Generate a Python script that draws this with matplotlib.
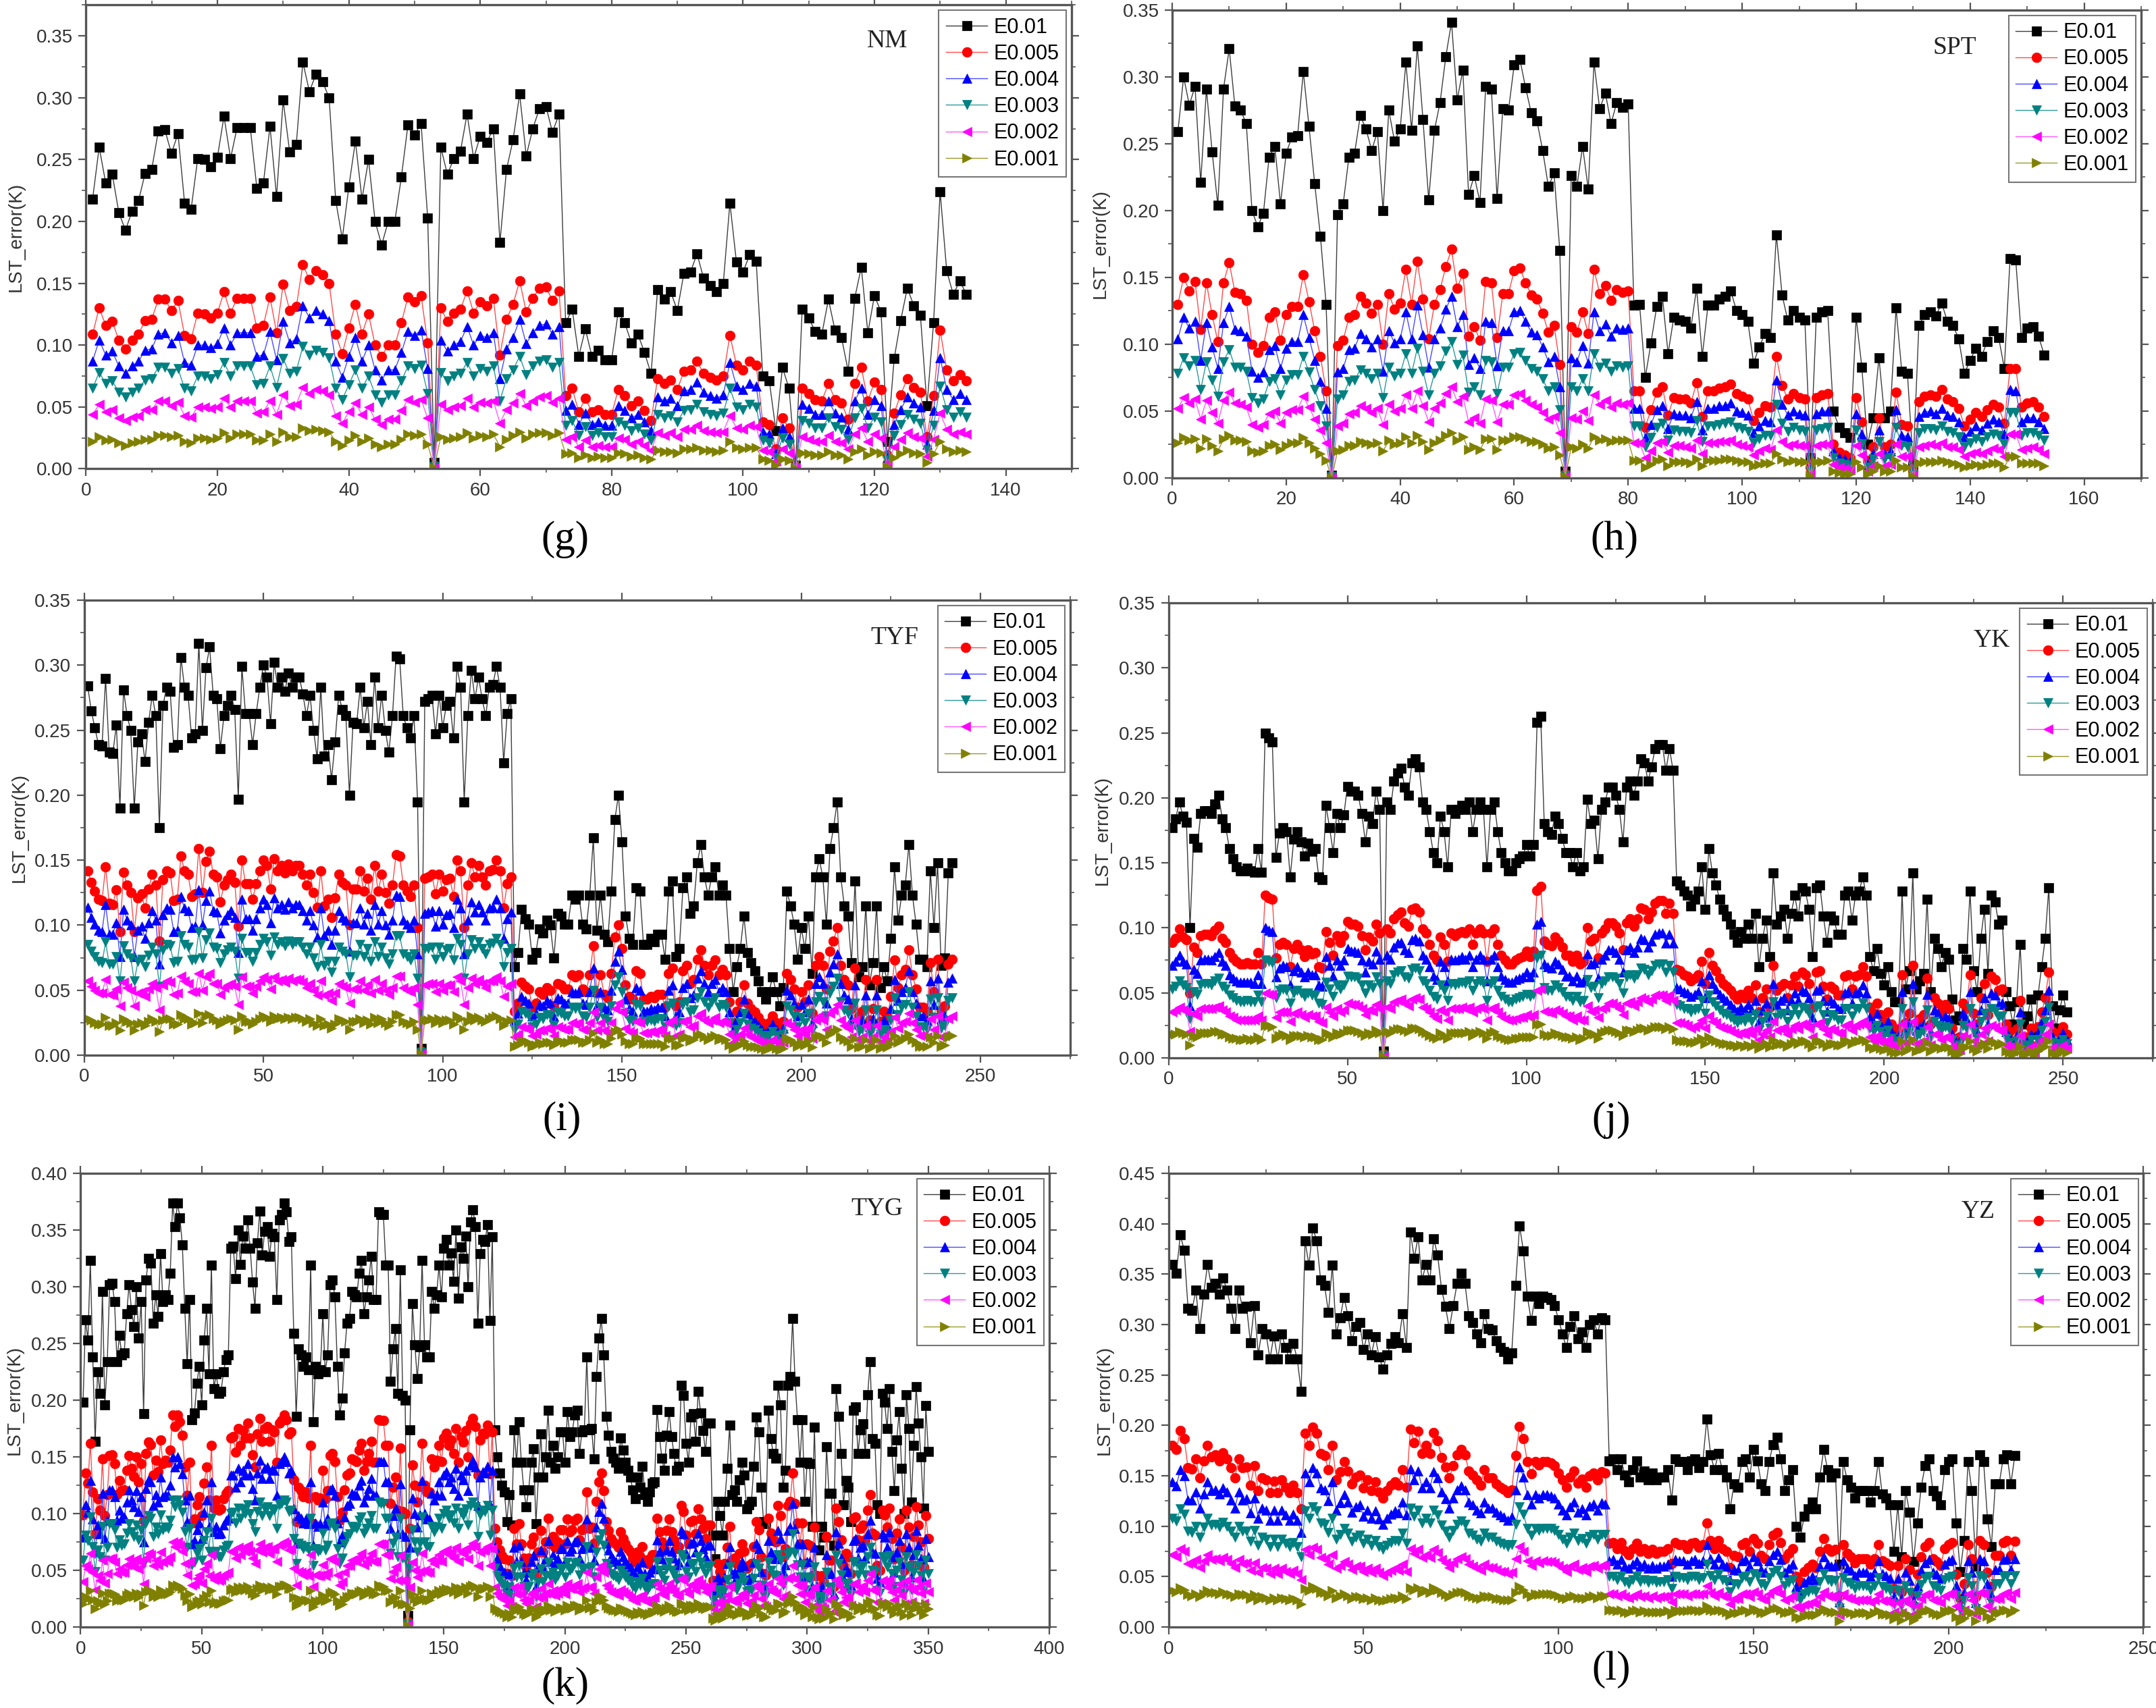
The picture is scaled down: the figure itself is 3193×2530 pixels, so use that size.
import numpy as np
import matplotlib
matplotlib.use("Agg")
import matplotlib.pyplot as plt
from matplotlib.ticker import MultipleLocator, FormatStrFormatter

# LST error, in units of 0.001 K, sample index starts at 1

# ---- (g) NM
g_e010 = [218,260,231,238,207,193,208,217,239,242, 273,274,255,271,215,210,251,250,244,252,
          285,251,276,276,276,227,231,277,220,298, 256,262,329,305,319,313,300,217,186,228,
          265,218,250,200,181,200,200,236,278,270, 279,203,5,260,238,251,257,287,251,269,
          264,275,183,242,266,303,253,275,291,293, 272,287,118,129,91,113,91,96,88,88,
          127,118,102,109,94,77,145,137,143,128, 158,159,174,154,148,143,150,215,167,159,
          173,168,75,71,31,82,65,3,129,122, 111,109,137,112,106,79,138,163,110,140,
          127,22,89,120,146,132,124,51,118,224, 160,141,152,141]
g_e005 = [109,130,116,119,104,97,104,109,120,121, 137,137,128,136,108,105,126,125,122,126,
          143,126,138,138,138,114,116,139,110,149, 128,131,165,153,160,157,150,109,93,114,
          133,109,125,100,91,100,100,118,139,135, 140,102,3,130,119,126,129,144,126,135,
          132,138,92,121,133,152,127,138,146,147, 136,144,59,65,46,57,46,48,44,44,
          64,59,51,55,47,39,73,69,72,64, 79,80,87,77,74,72,75,108,84,80,
          87,84,38,36,16,41,33,2,65,61, 56,55,69,56,53,40,69,82,55,70,
          64,11,45,60,73,66,62,26,59,112, 80,71,76,71]
g_e004 = [87,104,92,95,83,77,83,87,96,97, 109,110,102,108,86,84,100,100,98,101,
          114,100,110,110,110,91,92,111,88,119, 102,105,132,122,128,125,120,87,74,91,
          106,87,100,80,72,80,80,94,111,108, 112,81,2,104,95,100,103,115,100,108,
          106,110,73,97,106,121,101,110,116,117, 109,115,47,52,36,45,36,38,35,35,
          51,47,41,44,38,31,58,55,57,51, 63,64,70,62,59,57,60,86,67,64,
          69,67,30,28,12,33,26,1,52,49, 44,44,55,45,42,32,55,65,44,56,
          51,9,36,48,58,53,50,20,47,90, 64,56,61,56]
g_e003 = [65,78,69,71,62,58,62,65,72,73, 82,82,77,81,65,63,75,75,73,76,
          86,75,83,83,83,68,69,83,66,89, 77,79,99,92,96,94,90,65,56,68,
          80,65,75,60,54,60,60,71,83,81, 84,61,2,78,71,75,77,86,75,81,
          79,83,55,73,80,91,76,83,87,88, 82,86,35,39,27,34,27,29,26,26,
          38,35,31,33,28,23,44,41,43,38, 47,48,52,46,44,43,45,65,50,48,
          52,50,23,21,9,25,20,1,39,37, 33,33,41,34,32,24,41,49,33,42,
          38,7,27,36,44,40,37,15,35,67, 48,42,46,42]
g_e002 = [44,52,46,48,41,39,42,43,48,48, 55,55,51,54,43,42,50,50,49,50,
          57,50,55,55,55,45,46,55,44,60, 51,52,66,61,64,63,60,43,37,46,
          53,44,50,40,36,40,40,47,56,54, 56,41,1,52,48,50,51,57,50,54,
          53,55,37,48,53,61,51,55,58,59, 54,57,24,26,18,23,18,19,18,18,
          25,24,20,22,19,15,29,27,29,26, 32,32,35,31,30,29,30,43,33,32,
          35,34,15,14,6,16,13,1,26,24, 22,22,27,22,21,16,28,33,22,28,
          25,4,18,24,29,26,25,10,24,45, 32,28,30,28]
g_e001 = [22,26,23,24,21,19,21,22,24,24, 27,27,26,27,22,21,25,25,24,25,
          29,25,28,28,28,23,23,28,22,30, 26,26,33,31,32,31,30,22,19,23,
          27,22,25,20,18,20,20,24,28,27, 28,20,1,26,24,25,26,29,25,27,
          26,28,18,24,27,30,25,28,29,29, 27,29,12,13,9,11,9,10,9,9,
          13,12,10,11,9,8,15,14,14,13, 16,16,17,15,15,14,15,22,17,16,
          17,17,8,7,3,8,7,0,13,12, 11,11,14,11,11,8,14,16,11,14,
          13,2,9,12,15,13,12,5,12,22, 16,14,15,14]

# ---- (h) SPT
h_e010 = [259,300,279,293,221,291,244,204,291,321, 278,275,265,200,188,198,240,248,205,243,
          255,256,304,263,220,181,130,2,197,205, 240,243,271,261,245,259,200,275,252,261,
          311,260,323,268,208,260,281,315,341,283, 305,212,226,206,293,291,209,276,275,309,
          313,292,273,267,245,218,228,170,5,226, 218,248,216,311,276,288,265,281,277,280,
          129,130,75,101,128,136,93,120,118,117, 112,142,91,129,129,134,136,140,125,122,
          117,86,98,108,105,182,137,118,125,120, 118,15,120,124,125,50,38,34,30,120,
          83,25,45,90,45,50,127,80,78,10, 114,122,124,121,131,117,114,104,78,88,
          97,91,102,110,105,82,164,163,105,112, 113,106,92]
h_e005 = [130,150,140,147,111,146,122,102,146,161, 139,138,133,100,94,99,120,124,103,122,
          128,128,152,132,110,91,65,1,99,103, 120,122,136,131,123,130,100,138,126,131,
          156,130,162,134,104,130,141,158,171,142, 153,106,113,103,147,146,105,138,138,155,
          157,146,137,134,123,109,114,85,3,113, 109,124,108,156,138,144,133,141,139,140,
          65,65,38,51,64,68,47,60,59,59, 56,71,46,65,65,67,68,70,63,61,
          59,43,49,54,53,91,69,59,63,60, 59,8,60,62,63,25,19,17,15,60,
          42,13,23,45,23,25,64,40,39,5, 57,61,62,61,66,59,57,52,39,44,
          49,46,51,55,53,41,82,82,53,56, 57,53,46]
h_e004 = [104,120,112,117,88,116,98,82,116,128, 111,110,106,80,75,79,96,99,82,97,
          102,102,122,105,88,72,52,1,79,82, 96,97,108,104,98,104,80,110,101,104,
          124,104,129,107,83,104,112,126,136,113, 122,85,90,82,117,116,84,110,110,124,
          125,117,109,107,98,87,91,68,2,90, 87,99,86,124,110,115,106,112,111,112,
          52,52,30,40,51,54,37,48,47,47, 45,57,36,52,52,54,54,56,50,49,
          47,34,39,43,42,73,55,47,50,48, 47,6,48,50,50,20,15,14,12,48,
          33,10,18,36,18,20,51,32,31,4, 46,49,50,48,52,47,46,42,31,35,
          39,36,41,44,42,33,66,65,42,45, 45,42,37]
h_e003 = [78,90,84,88,66,87,73,61,87,96, 83,83,80,60,56,59,72,74,62,73,
          77,77,91,79,66,54,39,1,59,62, 72,73,81,78,74,78,60,83,76,78,
          93,78,97,80,62,78,84,95,102,85, 92,64,68,62,88,87,63,83,83,93,
          94,88,82,80,74,65,68,51,2,68, 65,74,65,93,83,86,80,84,83,84,
          39,39,23,30,38,41,28,36,35,35, 34,43,27,39,39,40,41,42,38,37,
          35,26,29,32,32,55,41,35,38,36, 35,5,36,37,38,15,11,10,9,36,
          25,8,14,27,14,15,38,24,23,3, 34,37,37,36,39,35,34,31,23,26,
          29,27,31,33,32,25,49,49,32,34, 34,32,28]
h_e002 = [52,60,56,59,44,58,49,41,58,64, 56,55,53,40,38,40,48,50,41,49,
          51,51,61,53,44,36,26,0,39,41, 48,49,54,52,49,52,40,55,50,52,
          62,52,65,54,42,52,56,63,68,57, 61,42,45,41,59,58,42,55,55,62,
          63,58,55,53,49,44,46,34,1,45, 44,50,43,62,55,58,53,56,55,56,
          26,26,15,20,26,27,19,24,24,23, 22,28,18,26,26,27,27,28,25,24,
          23,17,20,22,21,36,27,24,25,24, 24,3,24,25,25,10,8,7,6,24,
          17,5,9,18,9,10,25,16,16,2, 23,24,25,24,26,23,23,21,16,18,
          19,18,20,22,21,16,33,33,21,22, 23,21,18]
h_e001 = [26,30,28,29,22,29,24,20,29,32, 28,28,27,20,19,20,24,25,21,24,
          26,26,30,26,22,18,13,0,20,21, 24,24,27,26,25,26,20,28,25,26,
          31,26,32,27,21,26,28,32,34,28, 31,21,23,21,29,29,21,28,28,31,
          31,29,27,27,25,22,23,17,1,23, 22,25,22,31,28,29,27,28,28,28,
          13,13,8,10,13,14,9,12,12,12, 11,14,9,13,13,13,14,14,13,12,
          12,9,10,11,11,18,14,12,13,12, 12,2,12,12,13,5,4,3,3,12,
          8,3,5,9,5,5,13,8,8,1, 11,12,12,12,13,12,11,10,8,9,
          10,9,10,11,11,8,16,16,11,11, 11,11,9]

# ---- (i) TYF
i_e010 = [284,265,252,239,238,290,233,232,254,190, 281,261,250,190,241,247,226,256,277,261,
          175,269,283,280,237,239,306,283,277,244, 247,317,250,298,314,277,274,236,261,269,
          277,266,197,299,263,263,239,263,283,300, 291,255,302,283,291,280,294,283,291,291,
          278,261,277,250,228,283,230,239,212,241, 277,266,261,200,256,255,283,252,272,239,
          291,252,277,250,233,261,307,305,261,252, 244,261,195,5,272,274,277,247,277,252,
          269,272,244,299,283,195,261,296,274,291, 274,261,283,285,299,283,225,263,274,
          68,79,112,105,101,74,79,97,94,104, 100,75,109,107,101,101,123,120,123,101,
          97,123,167,96,123,93,87,126,181,200, 164,107,90,85,129,126,85,85,90,87,
          93,93,74,126,134,76,82,129,137,109, 115,148,162,137,123,137,145,123,131,123,
          82,49,68,82,107,79,71,65,57,49, 43,49,60,49,38,52,126,115,101,74,
          98,82,107,63,137,151,137,101,159,175, 195,137,115,107,71,134,60,68,115,54,
          71,115,52,68,57,90,145,104,123,131, 162,123,101,74,74,68,142,98,148,69,
          75,140,148]
i_e005 = [142,133,126,120,119,145,117,116,127,95, 141,131,125,95,121,124,113,128,139,131,
          88,135,142,140,119,120,153,142,139,122, 124,159,125,149,157,139,137,118,131,135,
          139,133,99,150,132,132,120,132,142,150, 146,128,151,142,146,140,147,142,146,146,
          139,131,139,125,114,142,115,120,106,121, 139,133,131,100,128,128,142,126,136,120,
          146,126,139,125,117,131,154,153,131,126, 122,131,98,3,136,137,139,124,139,126,
          135,136,122,150,142,98,131,148,137,146, 137,131,142,143,150,142,113,132,137,
          34,40,56,53,51,37,40,49,47,52, 50,38,55,54,51,51,62,60,62,51,
          49,62,84,48,62,47,44,63,91,100, 82,54,45,43,65,63,43,43,45,44,
          47,47,37,63,67,38,41,65,69,55, 58,74,81,69,62,69,73,62,66,62,
          41,25,34,41,54,40,36,33,29,25, 22,25,30,25,19,26,63,58,51,37,
          49,41,54,32,69,76,69,51,80,88, 98,69,58,54,36,67,30,34,58,27,
          36,58,26,34,29,45,73,52,62,66, 81,62,51,37,37,34,71,49,74,35,
          38,70,74]
i_e004 = [114,106,101,96,95,116,93,93,102,76, 112,104,100,76,96,99,90,102,111,104,
          70,108,113,112,95,96,122,113,111,98, 99,127,100,119,126,111,110,94,104,108,
          111,106,79,120,105,105,96,105,113,120, 116,102,121,113,116,112,118,113,116,116,
          111,104,111,100,91,113,92,96,85,96, 111,106,104,80,102,102,113,101,109,96,
          116,101,111,100,93,104,123,122,104,101, 98,104,78,2,109,110,111,99,111,101,
          108,109,98,120,113,78,104,118,110,116, 110,104,113,114,120,113,90,105,110,
          27,32,45,42,40,30,32,39,38,42, 40,30,44,43,40,40,49,48,49,40,
          39,49,67,38,49,37,35,50,72,80, 66,43,36,34,52,50,34,34,36,35,
          37,37,30,50,54,30,33,52,55,44, 46,59,65,55,49,55,58,49,52,49,
          33,20,27,33,43,32,28,26,23,20, 17,20,24,20,15,21,50,46,40,30,
          39,33,43,25,55,60,55,40,64,70, 78,55,46,43,28,54,24,27,46,22,
          28,46,21,27,23,36,58,42,49,52, 65,49,40,30,30,27,57,39,59,28,
          30,56,59]
i_e003 = [85,80,76,72,71,87,70,70,76,57, 84,78,75,57,72,74,68,77,83,78,
          53,81,85,84,71,72,92,85,83,73, 74,95,75,89,94,83,82,71,78,81,
          83,80,59,90,79,79,72,79,85,90, 87,77,91,85,87,84,88,85,87,87,
          83,78,83,75,68,85,69,72,64,72, 83,80,78,60,77,77,85,76,82,72,
          87,76,83,75,70,78,92,92,78,76, 73,78,59,2,82,82,83,74,83,76,
          81,82,73,90,85,59,78,89,82,87, 82,78,85,86,90,85,68,79,82,
          20,24,34,32,30,22,24,29,28,31, 30,23,33,32,30,30,37,36,37,30,
          29,37,50,29,37,28,26,38,54,60, 49,32,27,26,39,38,26,26,27,26,
          28,28,22,38,40,23,25,39,41,33, 35,44,49,41,37,41,44,37,39,37,
          25,15,20,25,32,24,21,20,17,15, 13,15,18,15,11,16,38,35,30,22,
          29,25,32,19,41,45,41,30,48,53, 59,41,35,32,21,40,18,20,35,16,
          21,35,16,20,17,27,44,31,37,39, 49,37,30,22,22,20,43,29,44,21,
          23,42,44]
i_e002 = [57,53,50,48,48,58,47,46,51,38, 56,52,50,38,48,49,45,51,55,52,
          35,54,57,56,47,48,61,57,55,49, 49,63,50,60,63,55,55,47,52,54,
          55,53,39,60,53,53,48,53,57,60, 58,51,60,57,58,56,59,57,58,58,
          56,52,55,50,46,57,46,48,42,48, 55,53,52,40,51,51,57,50,54,48,
          58,50,55,50,47,52,61,61,52,50, 49,52,39,1,54,55,55,49,55,50,
          54,54,49,60,57,39,52,59,55,58, 55,52,57,57,60,57,45,53,55,
          14,16,22,21,20,15,16,19,19,21, 20,15,22,21,20,20,25,24,25,20,
          19,25,33,19,25,19,17,25,36,40, 33,21,18,17,26,25,17,17,18,17,
          19,19,15,25,27,15,16,26,27,22, 23,30,32,27,25,27,29,25,26,25,
          16,10,14,16,21,16,14,13,11,10, 9,10,12,10,8,10,25,23,20,15,
          20,16,21,13,27,30,27,20,32,35, 39,27,23,21,14,27,12,14,23,11,
          14,23,10,14,11,18,29,21,25,26, 32,25,20,15,15,14,28,20,30,14,
          15,28,30]
i_e001 = [28,27,25,24,24,29,23,23,25,19, 28,26,25,19,24,25,23,26,28,26,
          18,27,28,28,24,24,31,28,28,24, 25,32,25,30,31,28,27,24,26,27,
          28,27,20,30,26,26,24,26,28,30, 29,26,30,28,29,28,29,28,29,29,
          28,26,28,25,23,28,23,24,21,24, 28,27,26,20,26,26,28,25,27,24,
          29,25,28,25,23,26,31,31,26,25, 24,26,20,1,27,27,28,25,28,25,
          27,27,24,30,28,20,26,30,27,29, 27,26,28,29,30,28,23,26,27,
          7,8,11,11,10,7,8,10,9,10, 10,8,11,11,10,10,12,12,12,10,
          10,12,17,10,12,9,9,13,18,20, 16,11,9,9,13,13,9,9,9,9,
          9,9,7,13,13,8,8,13,14,11, 12,15,16,14,12,14,15,12,13,12,
          8,5,7,8,11,8,7,7,6,5, 4,5,6,5,4,5,13,12,10,7,
          10,8,11,6,14,15,14,10,16,18, 20,14,12,11,7,13,6,7,12,5,
          7,12,5,7,6,9,15,10,12,13, 16,12,10,7,7,7,14,10,15,7,
          8,14,15]

# ---- (j) YK
j_e010 = [177,184,197,186,181,100,169,162,188,190, 190,188,195,202,184,177,161,153,147,144,
          144,146,144,143,161,143,250,246,243,154, 173,177,174,139,168,174,166,155,165,159,
          161,139,137,194,177,158,188,177,187,209, 205,205,202,188,166,186,180,205,191,5,
          197,191,213,219,223,208,202,227,230,224, 197,191,174,158,150,186,174,147,191,188,
          191,194,191,197,174,191,197,191,147,191, 197,174,158,150,144,144,150,153,155,164,
          155,164,258,263,180,174,172,186,180,169, 158,158,147,158,144,147,199,180,183,153,
          191,197,208,208,202,191,166,208,213,202, 213,230,227,213,224,238,241,241,221,238,
          221,136,133,
          128,125,117,122,128,147,114,161,142,133, 122,114,109,103,95,89,97,92,103,92,
          111,70,92,106,78,142,103,109,114,92, 111,125,109,131,128,114,78,131,133,109,
          89,109,106,95,95,125,128,106,125,128, 139,125,78,67,84,65,56,70,51,43,
          43,128,53,67,142,53,59,65,122,51, 92,84,70,81,76,45,29,32,84,76,
          128,67,51,92,114,65,125,120,103,106, 51,40,26,43,87,26,32,45,18,48,
          70,92,131,40,23,37,48,35]
j_e005 = [89,92,99,93,91,50,85,81,94,95, 95,94,98,101,92,89,81,77,74,72,
          72,73,72,72,81,72,125,123,122,77, 87,89,87,70,84,87,83,78,83,80,
          81,70,69,97,89,79,94,89,94,105, 103,103,101,94,83,93,90,103,96,3,
          99,96,107,110,112,104,101,114,115,112, 99,96,87,79,75,93,87,74,96,94,
          96,97,96,99,87,96,99,96,74,96, 99,87,79,75,72,72,75,77,78,82,
          78,82,129,132,90,87,86,93,90,85, 79,79,74,79,72,74,100,90,92,77,
          96,99,104,104,101,96,83,104,107,101, 107,115,114,107,112,119,121,121,111,119,
          111,68,67,
          64,63,59,61,64,74,57,81,71,67, 61,57,55,52,48,45,49,46,52,46,
          56,35,46,53,39,71,52,55,57,46, 56,63,55,66,64,57,39,66,67,55,
          45,55,53,48,48,63,64,53,63,64, 70,63,39,34,42,33,28,35,26,22,
          22,64,27,34,71,27,30,33,61,26, 46,42,35,41,38,23,15,16,42,38,
          64,34,26,46,57,33,63,60,52,53, 26,20,13,22,44,13,16,23,9,24,
          35,46,66,20,12,19,24,18]
j_e004 = [71,74,79,74,72,40,68,65,75,76, 76,75,78,81,74,71,64,61,59,58,
          58,58,58,57,64,57,100,98,97,62, 69,71,70,56,67,70,66,62,66,64,
          64,56,55,78,71,63,75,71,75,84, 82,82,81,75,66,74,72,82,76,2,
          79,76,85,88,89,83,81,91,92,90, 79,76,70,63,60,74,70,59,76,75,
          76,78,76,79,70,76,79,76,59,76, 79,70,63,60,58,58,60,61,62,66,
          62,66,103,105,72,70,69,74,72,68, 63,63,59,63,58,59,80,72,73,61,
          76,79,83,83,81,76,66,83,85,81, 85,92,91,85,90,95,96,96,88,95,
          88,54,53,
          51,50,47,49,51,59,46,64,57,53, 49,46,44,41,38,36,39,37,41,37,
          44,28,37,42,31,57,41,44,46,37, 44,50,44,52,51,46,31,52,53,44,
          36,44,42,38,38,50,51,42,50,51, 56,50,31,27,34,26,22,28,20,17,
          17,51,21,27,57,21,24,26,49,20, 37,34,28,32,30,18,12,13,34,30,
          51,27,20,37,46,26,50,48,41,42, 20,16,10,17,35,10,13,18,7,19,
          28,37,52,16,9,15,19,14]
j_e003 = [53,55,59,56,54,30,51,49,56,57, 57,56,59,61,55,53,48,46,44,43,
          43,44,43,43,48,43,75,74,73,46, 52,53,52,42,50,52,50,47,50,48,
          48,42,41,58,53,47,56,53,56,63, 62,62,61,56,50,56,54,62,57,2,
          59,57,64,66,67,62,61,68,69,67, 59,57,52,47,45,56,52,44,57,56,
          57,58,57,59,52,57,59,57,44,57, 59,52,47,45,43,43,45,46,47,49,
          47,49,77,79,54,52,52,56,54,51, 47,47,44,47,43,44,60,54,55,46,
          57,59,62,62,61,57,50,62,64,61, 64,69,68,64,67,71,72,72,66,71,
          66,41,40,
          38,38,35,37,38,44,34,48,43,40, 37,34,33,31,29,27,29,28,31,28,
          33,21,28,32,23,43,31,33,34,28, 33,38,33,39,38,34,23,39,40,33,
          27,33,32,29,29,38,38,32,38,38, 42,38,23,20,25,20,17,21,15,13,
          13,38,16,20,43,16,18,20,37,15, 28,25,21,24,23,14,9,10,25,23,
          38,20,15,28,34,20,38,36,31,32, 15,12,8,13,26,8,10,14,5,14,
          21,28,39,12,7,11,14,11]
j_e002 = [35,37,39,37,36,20,34,32,38,38, 38,38,39,40,37,35,32,31,29,29,
          29,29,29,29,32,29,50,49,49,31, 35,35,35,28,34,35,33,31,33,32,
          32,28,27,39,35,32,38,35,37,42, 41,41,40,38,33,37,36,41,38,1,
          39,38,43,44,45,42,40,45,46,45, 39,38,35,32,30,37,35,29,38,38,
          38,39,38,39,35,38,39,38,29,38, 39,35,32,30,29,29,30,31,31,33,
          31,33,52,53,36,35,34,37,36,34, 32,32,29,32,29,29,40,36,37,31,
          38,39,42,42,40,38,33,42,43,40, 43,46,45,43,45,48,48,48,44,48,
          44,27,27,
          26,25,23,24,26,29,23,32,28,27, 24,23,22,21,19,18,19,18,21,18,
          22,14,18,21,16,28,21,22,23,18, 22,25,22,26,26,23,16,26,27,22,
          18,22,21,19,19,25,26,21,25,26, 28,25,16,13,17,13,11,14,10,9,
          9,26,11,13,28,11,12,13,24,10, 18,17,14,16,15,9,6,6,17,15,
          26,13,10,18,23,13,25,24,21,21, 10,8,5,9,17,5,6,9,4,10,
          14,18,26,8,5,7,10,7]
j_e001 = [18,18,20,19,18,10,17,16,19,19, 19,19,20,20,18,18,16,15,15,14,
          14,15,14,14,16,14,25,25,24,15, 17,18,17,14,17,17,17,16,17,16,
          16,14,14,19,18,16,19,18,19,21, 21,21,20,19,17,19,18,21,19,1,
          20,19,21,22,22,21,20,23,23,22, 20,19,17,16,15,19,17,15,19,19,
          19,19,19,20,17,19,20,19,15,19, 20,17,16,15,14,14,15,15,16,16,
          16,16,26,26,18,17,17,19,18,17, 16,16,15,16,14,15,20,18,18,15,
          19,20,21,21,20,19,17,21,21,20, 21,23,23,21,22,24,24,24,22,24,
          22,14,13,
          13,13,12,12,13,15,11,16,14,13, 12,11,11,10,10,9,10,9,10,9,
          11,7,9,11,8,14,10,11,11,9, 11,13,11,13,13,11,8,13,13,11,
          9,11,11,10,10,13,13,11,13,13, 14,13,8,7,8,7,6,7,5,4,
          4,13,5,7,14,5,6,7,12,5, 9,8,7,8,8,5,3,3,8,8,
          13,7,5,9,11,7,13,12,10,11, 5,4,3,4,9,3,3,5,2,5,
          7,9,13,4,2,4,5,4]

# ---- (k) TYG
k_e010 = [198,271,253,323,238,164,225,206,296,196, 234,302,303,287,234,257,240,242,276,302, 280,265,300,255,
          287,188,306,325,321,268,293,274,329,287, 293,289,312,374,353,374,361,337,281,232,
          289,183,189,215,230,196,253,281,223,319, 210,223,206,208,225,236,240,334,336,307, 350,320,345,
          334,359,334,304,281,339,367,328,349,353, 327,347,344,289,359,364,374,366,340,344,
          259,186,245,240,230,238,227,319,181,230, 223,227,276,225,240,302,306,291,230,187,
          202,242,268,272,296,293,291,312,323,276, 291,306,327,289,289,366,364,364,319,319,
          217,245,263,206,315, 204,200,10,174,285,249,219,247,323,249,
          238,238,296,281,293,319,291,334,342,319, 330,305,350,290,335,325,345,300,
          357,368,353,268,329,342,340,355,270,344,
          174,150,136,125,119,93,117,90,174,145, 181,145,121,106,121,145,157,91,132,170,
          132,150,191,145,160,140,150,172,172,145, 190,168,172,187,191,153,172,174,238,174,
          175,148,221,255,272,240,186,169,155,149, 145,140,167,156,145,138,132,121,113,132,
          123,142,117,111,119,127,128,192,168,149, 138,169,190,168,153,138,142,213,204,162,
          145,185,188,164,208,189,173,155,180,180, 81,60,111,98,81,111,140,178,117,121,
          111,130,145,134,104,108,111,142,185,172, 123,93,91,191,166,153,149,213,196,123,
          138,213,221,272,217,183,145,183,111,145, 144,89,176,89,68,89,79,159,118,118,
          72,210,186,153,108,129,123,93,191,194, 153,174,179,153,205,234,166,162,108,100,
          206,198,175,210,155,120,165,190,140,100, 205,175,110,160,212,180,150,105,195,155]
k_e005 = [99,136,127,162,119,82,113,103,148,98, 117,151,152,144,117,129,120,121,138,151, 140,133,150,128,
          144,94,153,163,161,134,147,137,165,144, 147,145,156,187,177,187,181,169,141,116,
          145,92,95,108,115,98,127,141,112,160, 105,112,103,104,113,118,120,167,168,154, 175,160,173,
          167,180,167,152,141,170,184,164,175,177, 164,174,172,145,180,182,187,183,170,172,
          130,93,123,120,115,119,114,160,91,115, 112,114,138,113,120,151,153,146,115,94,
          101,121,134,136,148,147,146,156,162,138, 146,153,164,145,145,183,182,182,160,160,
          109,123,132,103,158, 102,100,5,87,143,125,110,124,162,125,
          119,119,148,141,147,160,146,167,171,160, 165,153,175,145,168,163,173,150,
          179,184,177,134,165,171,170,178,135,172,
          87,75,68,63,60,47,59,45,87,73, 91,73,61,53,61,73,79,46,66,85,
          66,75,96,73,80,70,75,86,86,73, 95,84,86,94,96,77,86,87,119,87,
          88,74,111,128,136,120,93,85,78,75, 73,70,84,78,73,69,66,61,57,66,
          62,71,59,56,60,64,64,96,84,75, 69,85,95,84,77,69,71,107,102,81,
          73,93,94,82,104,95,87,78,90,90, 41,30,56,49,41,56,70,89,59,61,
          56,65,73,67,52,54,56,71,93,86, 62,47,46,96,83,77,75,107,98,62,
          69,107,111,136,109,92,73,92,56,73, 72,45,88,45,34,45,40,80,59,59,
          36,105,93,77,54,65,62,47,96,97, 77,87,90,77,103,117,83,81,54,50,
          103,99,88,105,78,60,83,95,70,50, 103,88,55,80,106,90,75,53,98,78]
k_e004 = [79,108,101,129,95,66,90,82,118,78, 94,121,121,115,94,103,96,97,110,121, 112,106,120,102,
          115,75,122,130,128,107,117,110,132,115, 117,116,125,150,141,150,144,135,112,93,
          116,73,76,86,92,78,101,112,89,128, 84,89,82,83,90,94,96,134,134,123, 140,128,138,
          134,144,134,122,112,136,147,131,140,141, 131,139,138,116,144,146,150,146,136,138,
          104,74,98,96,92,95,91,128,72,92, 89,91,110,90,96,121,122,116,92,75,
          81,97,107,109,118,117,116,125,129,110, 116,122,131,116,116,146,146,146,128,128,
          87,98,105,82,126, 82,80,4,70,114,100,88,99,129,100,
          95,95,118,112,117,128,116,134,137,128, 132,122,140,116,134,130,138,120,
          143,147,141,107,132,137,136,142,108,138,
          70,60,54,50,48,37,47,36,70,58, 72,58,48,42,48,58,63,36,53,68,
          53,60,76,58,64,56,60,69,69,58, 76,67,69,75,76,61,69,70,95,70,
          70,59,88,102,109,96,74,68,62,60, 58,56,67,62,58,55,53,48,45,53,
          49,57,47,44,48,51,51,77,67,60, 55,68,76,67,61,55,57,85,82,65,
          58,74,75,66,83,76,69,62,72,72, 32,24,44,39,32,44,56,71,47,48,
          44,52,58,54,42,43,44,57,74,69, 49,37,36,76,66,61,60,85,78,49,
          55,85,88,109,87,73,58,73,44,58, 58,36,70,36,27,36,32,64,47,47,
          29,84,74,61,43,52,49,37,76,78, 61,70,72,61,82,94,66,65,43,40,
          82,79,70,84,62,48,66,76,56,40, 82,70,44,64,85,72,60,42,78,62]
k_e003 = [59,81,76,97,71,49,68,62,89,59, 70,91,91,86,70,77,72,73,83,91, 84,80,90,77,
          86,56,92,98,96,80,88,82,99,86, 88,87,94,112,106,112,108,101,84,70,
          87,55,57,65,69,59,76,84,67,96, 63,67,62,62,68,71,72,100,101,92, 105,96,104,
          100,108,100,91,84,102,110,98,105,106, 98,104,103,87,108,109,112,110,102,103,
          78,56,74,72,69,71,68,96,54,69, 67,68,83,68,72,91,92,87,69,56,
          61,73,80,82,89,88,87,94,97,83, 87,92,98,87,87,110,109,109,96,96,
          65,74,79,62,95, 61,60,3,52,86,75,66,74,97,75,
          71,71,89,84,88,96,87,100,103,96, 99,92,105,87,101,98,104,90,
          107,110,106,80,99,103,102,107,81,103,
          52,45,41,38,36,28,35,27,52,44, 54,44,36,32,36,44,47,27,40,51,
          40,45,57,44,48,42,45,52,52,44, 57,50,52,56,57,46,52,52,71,52,
          53,44,66,77,82,72,56,51,47,45, 44,42,50,47,44,41,40,36,34,40,
          37,43,35,33,36,38,38,58,50,45, 41,51,57,50,46,41,43,64,61,49,
          44,56,56,49,62,57,52,47,54,54, 24,18,33,29,24,33,42,53,35,36,
          33,39,44,40,31,32,33,43,56,52, 37,28,27,57,50,46,45,64,59,37,
          41,64,66,82,65,55,44,55,33,44, 43,27,53,27,20,27,24,48,35,35,
          22,63,56,46,32,39,37,28,57,58, 46,52,54,46,62,70,50,49,32,30,
          62,59,53,63,47,36,50,57,42,30, 62,53,33,48,64,54,45,32,59,47]
k_e002 = [40,54,51,65,48,33,45,41,59,39, 47,60,61,57,47,51,48,48,55,60, 56,53,60,51,
          57,38,61,65,64,54,59,55,66,57, 59,58,62,75,71,75,72,67,56,46,
          58,37,38,43,46,39,51,56,45,64, 42,45,41,42,45,47,48,67,67,61, 70,64,69,
          67,72,67,61,56,68,73,66,70,71, 65,69,69,58,72,73,75,73,68,69,
          52,37,49,48,46,48,45,64,36,46, 45,45,55,45,48,60,61,58,46,37,
          40,48,54,54,59,59,58,62,65,55, 58,61,65,58,58,73,73,73,64,64,
          43,49,53,41,63, 41,40,2,35,57,50,44,49,65,50,
          48,48,59,56,59,64,58,67,68,64, 66,61,70,58,67,65,69,60,
          71,74,71,54,66,68,68,71,54,69,
          35,30,27,25,24,19,23,18,35,29, 36,29,24,21,24,29,31,18,26,34,
          26,30,38,29,32,28,30,34,34,29, 38,34,34,37,38,31,34,35,48,35,
          35,30,44,51,54,48,37,34,31,30, 29,28,33,31,29,28,26,24,23,26,
          25,28,23,22,24,25,26,38,34,30, 28,34,38,34,31,28,28,43,41,32,
          29,37,38,33,42,38,35,31,36,36, 16,12,22,20,16,22,28,36,23,24,
          22,26,29,27,21,22,22,28,37,34, 25,19,18,38,33,31,30,43,39,25,
          28,43,44,54,43,37,29,37,22,29, 29,18,35,18,14,18,16,32,24,24,
          14,42,37,31,22,26,25,19,38,39, 31,35,36,31,41,47,33,32,22,20,
          41,40,35,42,31,24,33,38,28,20, 41,35,22,32,42,36,30,21,39,31]
k_e001 = [20,27,25,32,24,16,23,21,30,20, 23,30,30,29,23,26,24,24,28,30, 28,27,30,26,
          29,19,31,33,32,27,29,27,33,29, 29,29,31,37,35,37,36,34,28,23,
          29,18,19,22,23,20,25,28,22,32, 21,22,21,21,23,24,24,33,34,31, 35,32,35,
          33,36,33,30,28,34,37,33,35,35, 33,35,34,29,36,36,37,37,34,34,
          26,19,25,24,23,24,23,32,18,23, 22,23,28,23,24,30,31,29,23,19,
          20,24,27,27,30,29,29,31,32,28, 29,31,33,29,29,37,36,36,32,32,
          22,25,26,21,32, 20,20,1,17,29,25,22,25,32,25,
          24,24,30,28,29,32,29,33,34,32, 33,31,35,29,34,33,35,30,
          36,37,35,27,33,34,34,36,27,34,
          17,15,14,13,12,9,12,9,17,15, 18,15,12,11,12,15,16,9,13,17,
          13,15,19,15,16,14,15,17,17,15, 19,17,17,19,19,15,17,17,24,17,
          18,15,22,26,27,24,19,17,16,15, 15,14,17,16,15,14,13,12,11,13,
          12,14,12,11,12,13,13,19,17,15, 14,17,19,17,15,14,14,21,20,16,
          15,19,19,16,21,19,17,16,18,18, 8,6,11,10,8,11,14,18,12,12,
          11,13,15,13,10,11,11,14,19,17, 12,9,9,19,17,15,15,21,20,12,
          14,21,22,27,22,18,15,18,11,15, 14,9,18,9,7,9,8,16,12,12,
          7,21,19,15,11,13,12,9,19,19, 15,17,18,15,21,23,17,16,11,10,
          21,20,18,21,16,12,17,19,14,10, 21,18,11,16,21,18,15,11,20,16]

# ---- (l) YZ
l_e010 = [360,351,389,374,316,314,334,296,330,360, 337,341,330,346,334,316,296,334,316,318,
          282,319,270,296,291,266,289,266,291,277, 266,281,266,234,383,359,396,383,344,339,
          312,359,291,307,327,309,284,298,302,275, 291,270,288,268,256,270,281,288,282,311,
          277,392,366,387,344,360,344,385,369,335, 318,296,319,341,351,341,309,302,291,282,
          311,296,295,284,277,273,266,272,339,398, 373,328,304,328,321,328,327,325,319,305,
          291,277,298,309,286,293,277,300,305,291, 307,305,
          165,167,156,167,151,144,156,165,149,155, 146,153,146,149,149,156,126,167,164,164,
          156,165,167,158,164,206,171,156,172,156, 149,117,142,139,164,167,149,176,165,142,
          135,164,181,188,167,135,146,156,100,89, 110,117,124,117,149,176,156,149,153,62,
          164,146,139,128,135,135,135,124,135,164, 132,128,121,75,121,70,135,114,65,103,
          139,160,167,135,130,121,156,164,167,103, 55,86,164,135,60,171,164,107,80,142,
          142,167,171,142,170]
l_e005 = [180,176,195,187,158,157,167,148,165,180, 169,171,165,173,167,158,148,167,158,159,
          141,160,135,148,146,133,145,133,146,139, 133,141,133,117,192,180,198,192,172,170,
          156,180,146,154,164,155,142,149,151,138, 146,135,144,134,128,135,141,144,141,156,
          139,196,183,194,172,180,172,193,185,168, 159,148,160,171,176,171,155,151,146,141,
          156,148,148,142,139,137,133,136,170,199, 187,164,152,164,161,164,164,163,160,153,
          146,139,149,155,143,147,139,150,153,146, 154,153,
          83,84,78,84,76,72,78,83,75,78, 73,77,73,75,75,78,63,84,82,82,
          78,83,84,79,82,103,86,78,86,78, 75,59,71,70,82,84,75,88,83,71,
          68,82,91,94,84,68,73,78,50,45, 55,59,62,59,75,88,78,75,77,31,
          82,73,70,64,68,68,68,62,68,82, 66,64,61,38,61,35,68,57,33,52,
          70,80,84,68,65,61,78,82,84,52, 28,43,82,68,30,86,82,54,40,71,
          71,84,86,71,85]
l_e004 = [144,140,156,150,126,126,134,118,132,144, 135,136,132,138,134,126,118,134,126,127,
          113,128,108,118,116,106,116,106,116,111, 106,112,106,94,153,144,158,153,138,136,
          125,144,116,123,131,124,114,119,121,110, 116,108,115,107,102,108,112,115,113,124,
          111,157,146,155,138,144,138,154,148,134, 127,118,128,136,140,136,124,121,116,113,
          124,118,118,114,111,109,106,109,136,159, 149,131,122,131,128,131,131,130,128,122,
          116,111,119,124,114,117,111,120,122,116, 123,122,
          66,67,62,67,60,58,62,66,60,62, 58,61,58,60,60,62,50,67,66,66,
          62,66,67,63,66,82,68,62,69,62, 60,47,57,56,66,67,60,70,66,57,
          54,66,72,75,67,54,58,62,40,36, 44,47,50,47,60,70,62,60,61,25,
          66,58,56,51,54,54,54,50,54,66, 53,51,48,30,48,28,54,46,26,41,
          56,64,67,54,52,48,62,66,67,41, 22,34,66,54,24,68,66,43,32,57,
          57,67,68,57,68]
l_e003 = [108,105,117,112,95,94,100,89,99,108, 101,102,99,104,100,95,89,100,95,95,
          85,96,81,89,87,80,87,80,87,83, 80,84,80,70,115,108,119,115,103,102,
          94,108,87,92,98,93,85,89,91,83, 87,81,86,80,77,81,84,86,85,93,
          83,118,110,116,103,108,103,116,111,101, 95,89,96,102,105,102,93,91,87,85,
          93,89,89,85,83,82,80,82,102,119, 112,98,91,98,96,98,98,98,96,92,
          87,83,89,93,86,88,83,90,92,87, 92,92,
          50,50,47,50,45,43,47,50,45,47, 44,46,44,45,45,47,38,50,49,49,
          47,50,50,47,49,62,51,47,52,47, 45,35,43,42,49,50,45,53,50,43,
          41,49,54,56,50,41,44,47,30,27, 33,35,37,35,45,53,47,45,46,19,
          49,44,42,38,41,41,41,37,41,49, 40,38,36,23,36,21,41,34,20,31,
          42,48,50,41,39,36,47,49,50,31, 17,26,49,41,18,51,49,32,24,43,
          43,50,51,43,51]
l_e002 = [72,70,78,75,63,63,67,59,66,72, 67,68,66,69,67,63,59,67,63,64,
          56,64,54,59,58,53,58,53,58,55, 53,56,53,47,77,72,79,77,69,68,
          62,72,58,61,65,62,57,60,60,55, 58,54,58,54,51,54,56,58,56,62,
          55,78,73,77,69,72,69,77,74,67, 64,59,64,68,70,68,62,60,58,56,
          62,59,59,57,55,55,53,54,68,80, 75,66,61,66,64,66,65,65,64,61,
          58,55,60,62,57,59,55,60,61,58, 61,61,
          33,33,31,33,30,29,31,33,30,31, 29,31,29,30,30,31,25,33,33,33,
          31,33,33,32,33,41,34,31,34,31, 30,23,28,28,33,33,30,35,33,28,
          27,33,36,38,33,27,29,31,20,18, 22,23,25,23,30,35,31,30,31,12,
          33,29,28,26,27,27,27,25,27,33, 26,26,24,15,24,14,27,23,13,21,
          28,32,33,27,26,24,31,33,33,21, 11,17,33,27,12,34,33,21,16,28,
          28,33,34,28,34]
l_e001 = [36,35,39,37,32,31,33,30,33,36, 34,34,33,35,33,32,30,33,32,32,
          28,32,27,30,29,27,29,27,29,28, 27,28,27,23,38,36,40,38,34,34,
          31,36,29,31,33,31,28,30,30,28, 29,27,29,27,26,27,28,29,28,31,
          28,39,37,39,34,36,34,39,37,34, 32,30,32,34,35,34,31,30,29,28,
          31,30,30,28,28,27,27,27,34,40, 37,33,30,33,32,33,33,33,32,31,
          29,28,30,31,29,29,28,30,31,29, 31,31,
          17,17,16,17,15,14,16,17,15,16, 15,15,15,15,15,16,13,17,16,16,
          16,17,17,16,16,21,17,16,17,16, 15,12,14,14,16,17,15,18,17,14,
          14,16,18,19,17,14,15,16,10,9, 11,12,12,12,15,18,16,15,15,6,
          16,15,14,13,14,14,14,12,14,16, 13,13,12,8,12,7,14,11,7,10,
          14,16,17,14,13,12,16,16,17,10, 6,9,16,14,6,17,16,11,8,14,
          14,17,17,14,17]

LABELS = ["E0.01", "E0.005", "E0.004", "E0.003", "E0.002", "E0.001"]
COLORS = ["#000000", "#ff0000", "#0000ff", "#008080", "#ff00ff", "#808000"]
LINE_COLORS = ["#3c3c3c", "#ff4a4a", "#4a4aff", "#2a9a9a", "#ff5aff", "#9a9a2a"]
MARKERS = ["s", "o", "^", "v", "<", ">"]

W, H = 3193, 2530

# site, tag, series, axes rect, xmax, xstep, ymax, ylabel x, site xy, tag px
panels = [
    ("NM", "(g)", [g_e010, g_e005, g_e004, g_e003, g_e002, g_e001],
     [0.0399, 0.7255, 0.4571, 0.2716], 150, 20, 0.375, -0.062, (0.834, 0.922), (837, 799)),
    ("SPT", "(h)", [h_e010, h_e005, h_e004, h_e003, h_e002, h_e001],
     [0.5437, 0.7202, 0.4494, 0.2739], 170, 20, 0.35, -0.065, (0.830, 0.919), (2391, 799)),
    ("TYF", "(i)", [i_e010, i_e005, i_e004, i_e003, i_e002, i_e001],
     [0.0390, 0.3822, 0.4574, 0.2664], 275, 50, 0.35, -0.057, (0.846, 0.917), (832, 1659)),
    ("YK", "(j)", [j_e010, j_e005, j_e004, j_e003, j_e002, j_e001],
     [0.5420, 0.3807, 0.4564, 0.2663], 275, 50, 0.35, -0.058, (0.855, 0.917), (2386, 1659)),
    ("TYG", "(k)", [k_e010, k_e005, k_e004, k_e003, k_e002, k_e001],
     [0.0374, 0.0474, 0.4493, 0.2656], 400, 50, 0.40, -0.059, (0.849, 0.921), (837, 2497)),
    ("YZ", "(l)", [l_e010, l_e005, l_e004, l_e003, l_e002, l_e001],
     [0.5420, 0.0474, 0.4522, 0.2656], 250, 50, 0.45, -0.057, (0.848, 0.915), (2386, 2473)),
]

fig = plt.figure(figsize=(W / 100, H / 100), dpi=100)

for site, tag, series, rect, xmax, xstep, ymax, ylx, sxy, txy in panels:
    ax = fig.add_axes(rect)
    for vals, lab, col, lcol, mk in zip(series, LABELS, COLORS, LINE_COLORS, MARKERS):
        y = np.asarray(vals, dtype=float) / 1000.0
        x = np.arange(1, len(y) + 1)
        ax.plot(x, y, color=lcol, lw=1.0, marker=mk, ms=10.5, mfc=col, mec=col,
                mew=0.5, label=lab)

    ax.set_xlim(0, xmax)
    ax.set_ylim(0, ymax)
    ax.xaxis.set_major_locator(MultipleLocator(xstep))
    ax.xaxis.set_minor_locator(MultipleLocator(xstep / 2))
    ax.yaxis.set_major_locator(MultipleLocator(0.05))
    ax.yaxis.set_minor_locator(MultipleLocator(0.025))
    ax.yaxis.set_major_formatter(FormatStrFormatter("%.2f"))
    ax.tick_params(which="both", direction="out", top=True, right=True,
                   colors="#555555", labelcolor="#333333")
    ax.tick_params(which="major", length=8, width=1.6, labelsize=20, pad=6)
    ax.tick_params(which="minor", length=4, width=1.2)
    for t in ax.get_xticklabels() + ax.get_yticklabels():
        t.set_family("Liberation Sans")
    for sp in ax.spines.values():
        sp.set_linewidth(2.4)
        sp.set_color("#555555")

    ax.set_ylabel("LST_error(K)", fontsize=20, color="#333333", family="Liberation Sans")
    ax.yaxis.set_label_coords(ylx, 0.5)

    ax.text(sxy[0], sxy[1], site, transform=ax.transAxes, ha="right", va="center",
            fontsize=27, family="Liberation Serif", color="#222222")

    leg = ax.legend(loc="upper right", bbox_to_anchor=(1.0, 1.0), borderaxespad=0.25,
                    handlelength=2.0, handletextpad=0.3, labelspacing=0.3,
                    borderpad=0.35, fancybox=False, framealpha=1.0,
                    prop={"family": "Liberation Sans", "size": 22})
    leg.get_frame().set_edgecolor("#777777")
    leg.get_frame().set_linewidth(1.5)

    fig.text(txy[0] / W, 1 - txy[1] / H, tag, ha="center", va="center",
             fontsize=44, family="Liberation Serif")

fig.savefig("out.png", dpi=100)
